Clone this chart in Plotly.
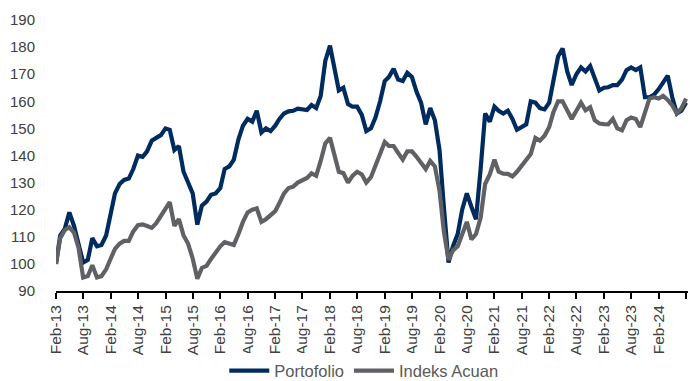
import pandas as pd
import plotly.graph_objects as go

# Monthly index levels, Feb-2013 = 100
months = pd.date_range("2013-02-01", periods=139, freq="MS")

portofolio = [
    100, 110.5, 113, 119, 114, 107.5, 100.5, 101.5, 109.5, 106.5, 107, 110.5,
    118, 126, 129.5, 131, 131.5, 135, 140, 139.5, 141.5, 145.5, 146.5, 147.5,
    150, 149.5, 142, 143.5, 134, 130, 126, 114.5, 121.5, 123, 125.5, 126,
    128, 135, 136, 138.5, 146, 151, 153.5, 152.5, 156.5, 148.5, 150, 149,
    151, 153.5, 155.5, 156.3, 156.5, 157.3, 157.2, 156.8, 158.6, 157.5, 162, 175,
    180.5, 172, 164, 165, 159, 158, 158, 155, 149, 150, 154, 160,
    167.5, 169, 172, 168, 167.5, 170.5, 169, 163.5, 159.5, 151.5, 157.5, 153,
    142, 121, 100.5, 106.5, 111, 120, 126, 121, 116.5, 135, 155.5, 152.5,
    158, 156.5, 155.5, 156.5, 153.5, 149.5, 150.5, 151.5, 160, 159.5, 157.5, 157,
    159.5, 168, 176.5, 179.5, 171, 166, 170, 172.5, 171, 173, 169, 164,
    165, 165.2, 166, 166, 168, 171.5, 172.5, 171.5, 172.5, 161.5, 161.5, 162.5,
    164.5, 167, 169.5, 161.5, 155.5, 156.5, 159.5,
]

indeks_acuan = [
    100, 109.5, 112.5, 113.5, 111.5, 106, 95, 95.5, 99.5, 95, 95.5, 98,
    102, 105.5, 107.5, 108.5, 108.5, 112, 114.3, 114.6, 114, 113.3, 115, 117.5,
    120, 122.8, 114, 116.5, 110.5, 107.5, 102, 94.5, 98.5, 99.3, 101.8, 104.5,
    106.5, 108, 107.5, 107, 111, 115.5, 119, 120, 120.5, 115.5, 116.5, 118,
    119.5, 122.5, 126, 128, 128.5, 130, 130.8, 131.7, 133.4, 132.5, 138, 144.5,
    146.5, 141, 134, 133.5, 130, 132.5, 134, 133, 130, 132, 136.5, 141,
    145, 143.5, 143.5, 141, 138.5, 141.5, 141.5, 139.5, 137, 135, 138, 136,
    127, 112, 101.5, 105, 106.5, 110.5, 115.5, 109, 111, 117, 129.5, 133,
    138.5, 134, 133.3, 133.2, 132.3, 134, 136, 138.5, 140.5, 146.5, 145.5, 147.3,
    150.5, 156, 160, 160, 156.5, 153.5, 156.5, 159.5, 156.7, 157.8, 153, 151.8,
    151.6, 151.5, 153.5, 150, 149.3, 153, 154, 153.5, 150.5, 156.5, 161, 161.5,
    161, 162, 160.5, 158.5, 155.5, 157.4, 161,
]

tick_labels = [
    "Feb-13", "Aug-13", "Feb-14", "Aug-14", "Feb-15", "Aug-15", "Feb-16", "Aug-16",
    "Feb-17", "Aug-17", "Feb-18", "Aug-18", "Feb-19", "Aug-19", "Feb-20", "Aug-20",
    "Feb-21", "Aug-21", "Feb-22", "Aug-22", "Feb-23", "Aug-23", "Feb-24", "",
]
tick_dates = months[::6]

NAVY = "#002B5E"
GREY = "#606164"
FONT = "Liberation Sans, Arial, sans-serif"

fig = go.Figure()
fig.add_trace(go.Scatter(
    x=months, y=portofolio, name="Portofolio", mode="lines",
    line=dict(color=NAVY, width=4.2),
))
fig.add_trace(go.Scatter(
    x=months, y=indeks_acuan, name="Indeks Acuan", mode="lines",
    line=dict(color=GREY, width=4.2),
))

fig.update_layout(
    width=694, height=381,
    margin=dict(l=56, r=6, t=20, b=90, autoexpand=False),
    paper_bgcolor="white", plot_bgcolor="white",
    font=dict(family=FONT, size=15, color="#404040"),
    showlegend=True,
    legend=dict(
        orientation="h", x=0.487, xanchor="center", y=-0.295, yanchor="middle",
        font=dict(family=FONT, size=16.5, color="#595959"),
        traceorder="normal", itemwidth=40,
    ),
    xaxis=dict(
        range=[months[0], pd.Timestamp("2024-08-14")],
        tickvals=list(tick_dates), ticktext=tick_labels,
        tickangle=-90, ticks="outside", ticklen=6, tickwidth=1.5, tickcolor="black",
        showline=True, linecolor="black", linewidth=2,
        showgrid=False, zeroline=False, automargin=False,
        tickfont=dict(family=FONT, size=15.5, color="#404040"),
    ),
    yaxis=dict(
        range=[90, 190], tickvals=list(range(90, 200, 10)),
        showline=False, showgrid=False, zeroline=False, ticks="",
        ticklabelstandoff=20, automargin=False,
        tickfont=dict(family=FONT, size=15, color="#404040"),
    ),
)

fig.write_html("out.html")
